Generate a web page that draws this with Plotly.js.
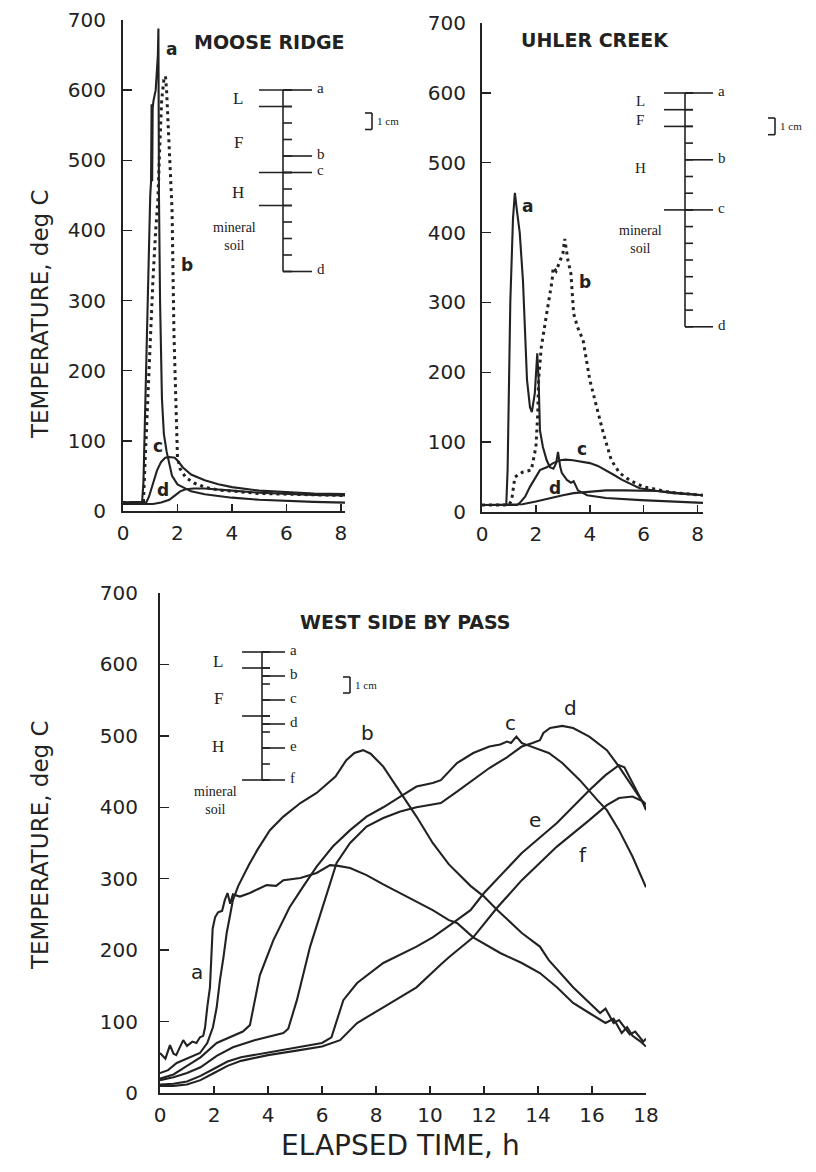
<!DOCTYPE html>
<html><head><meta charset="utf-8">
<script src="https://cdn.plot.ly/plotly-3.0.1.min.js"></script>
<style>html,body{margin:0;padding:0;background:#fff}</style>
</head><body>
<div id="chart" style="width:816px;height:1172px"></div>
<script>
// ---------------- DATA ----------------
// Moose Ridge (elapsed time h, temperature deg C)
const mrA_t = [0, 0.5, 0.7, 0.75, 0.85, 0.95, 1.0, 1.03, 1.05, 1.07, 1.09, 1.12, 1.2, 1.28, 1.3, 1.32, 1.36, 1.43, 1.5, 1.6, 1.7, 1.8, 2.0, 2.5, 3.0, 4.0, 5.0, 6.0, 7.0, 8.15];
const mrA_T = [12, 12, 13, 40, 220, 400, 450, 470, 580, 470, 575, 585, 600, 650, 688, 450, 300, 160, 110, 85, 65, 50, 38, 28, 24, 19, 16, 14, 13, 12];
const mrB_t = [0, 0.75, 0.8, 0.9, 1.0, 1.1, 1.2, 1.28, 1.35, 1.42, 1.5, 1.56, 1.6, 1.65, 1.7, 1.8, 1.87, 1.95, 2.0, 2.1, 2.3, 2.6, 3.0, 3.5, 4.0, 5.0, 6.0, 7.0, 8.15];
const mrB_T = [12, 12, 60, 150, 250, 330, 400, 443, 520, 585, 615, 620, 600, 560, 500, 430, 253, 120, 76, 60, 48, 40, 34, 30, 28, 25, 24, 23, 22];
const mrC_t = [0, 0.85, 0.95, 1.1, 1.25, 1.4, 1.55, 1.7, 1.9, 2.0, 2.2, 2.5, 3.0, 3.5, 4.0, 5.0, 6.0, 7.0, 8.15];
const mrC_T = [12, 12, 20, 40, 58, 70, 76, 77, 76, 72, 62, 52, 44, 38, 34, 29, 27, 25, 24];
const mrD_t = [0, 1.1, 1.4, 1.7, 1.9, 2.1, 2.3, 2.6, 3.0, 3.5, 4.0, 5.0, 6.0, 7.0, 8.15];
const mrD_T = [10, 10, 12, 16, 22, 28, 31, 32, 32, 31, 29, 26, 24, 23, 22];

// Uhler Creek
const ucA_t = [0, 0.9, 0.95, 1.05, 1.15, 1.22, 1.3, 1.4, 1.52, 1.6, 1.67, 1.78, 1.85, 1.96, 2.02, 2.05, 2.1, 2.15, 2.26, 2.4, 2.52, 2.65, 2.75, 2.82, 2.9, 2.96, 3.15, 3.3, 3.4, 3.56, 3.9, 4.6, 5.9, 7.0, 8.2];
const ucA_T = [10, 10, 60, 300, 420, 457, 430, 400, 331, 260, 189, 150, 143, 170, 200, 227, 190, 117, 93, 74, 64, 62, 70, 86, 65, 56, 46, 42, 44, 31, 24, 20, 17, 15, 13];
const ucB_t = [0, 1.0, 1.1, 1.22, 1.5, 1.83, 2.0, 2.07, 2.1, 2.2, 2.4, 2.6, 2.64, 2.75, 2.9, 3.0, 3.07, 3.19, 3.3, 3.4, 3.55, 3.75, 4.0, 4.26, 4.5, 4.8, 5.1, 5.5, 6.0, 7.0, 8.2];
const ucB_T = [10, 10, 17, 50, 57, 60, 93, 141, 189, 236, 284, 331, 350, 345, 360, 370, 391, 360, 341, 284, 264, 246, 189, 150, 113, 74, 56, 45, 36, 28, 24];
const ucC_t = [0, 1.3, 1.4, 1.6, 1.78, 2.0, 2.15, 2.4, 2.64, 2.9, 3.1, 3.37, 3.7, 4.0, 4.3, 4.6, 4.9, 5.2, 5.5, 5.85, 6.5, 7.1, 8.2];
const ucC_T = [10, 10, 13, 22, 36, 50, 60, 64, 70, 74, 75, 74, 72, 70, 66, 60, 53, 46, 40, 34, 30, 27, 24];
const ucD_t = [0, 1.5, 2.0, 2.5, 3.0, 3.4, 3.9, 4.6, 5.3, 5.9, 6.5, 7.1, 8.2];
const ucD_T = [10, 11, 15, 20, 24, 27, 29, 31, 31, 31, 30, 28, 24];

// West Side By Pass
const wsA_t = [0, 0.2, 0.37, 0.5, 0.6, 0.75, 0.86, 1.0, 1.2, 1.35, 1.48, 1.6, 1.67, 1.75, 1.85, 1.95, 2.04, 2.15, 2.3, 2.4, 2.5, 2.6, 2.7, 2.96, 3.33, 3.6, 3.95, 4.3, 4.57, 5.2, 5.8, 6.3, 6.6, 7.04, 7.65, 8.27, 8.9, 9.5, 10.1, 10.7, 11.0, 11.6, 12.6, 13.4, 14.07, 14.7, 15.3, 15.9, 16.5, 16.8, 17.1, 17.3, 17.5, 17.8, 18];
const wsA_T = [56, 48, 67, 55, 53, 65, 74, 66, 72, 70, 78, 80, 92, 120, 148, 230, 246, 253, 255, 270, 280, 265, 278, 275, 280, 285, 291, 290, 298, 301, 308, 319, 318, 315, 305, 292, 280, 268, 256, 242, 238, 218, 196, 182, 168, 148, 126, 112, 98, 104, 84, 92, 80, 72, 65];
const wsB_t = [0, 0.3, 0.62, 1.0, 1.48, 1.75, 1.96, 2.1, 2.22, 2.35, 2.47, 2.6, 2.7, 2.9, 3.07, 3.3, 3.6, 4.07, 4.57, 5.2, 5.8, 6.5, 6.9, 7.2, 7.52, 7.8, 8.27, 9.0, 9.5, 10.1, 10.7, 11.5, 12.0, 12.5, 13.4, 14.07, 14.4, 15.3, 16.3, 16.5, 16.8, 17.0, 17.4, 17.6, 17.9, 18];
const wsB_T = [28, 32, 42, 48, 56, 70, 92, 120, 158, 190, 224, 250, 270, 290, 303, 320, 340, 368, 387, 406, 420, 443, 466, 476, 480, 475, 457, 415, 387, 350, 320, 290, 275, 256, 224, 205, 186, 148, 112, 118, 98, 102, 82, 86, 72, 76];
const wsC_t = [0, 0.5, 1.0, 1.5, 2.1, 2.7, 3.07, 3.33, 3.5, 3.7, 4.2, 4.8, 5.3, 5.8, 6.4, 7.04, 7.65, 8.27, 8.9, 9.5, 10.1, 10.4, 11.0, 11.6, 12.2, 12.6, 12.85, 13.0, 13.2, 13.4, 13.6, 14.07, 14.4, 14.9, 15.55, 16.2, 16.55, 17.0, 17.5, 18];
const wsC_T = [20, 26, 38, 50, 70, 80, 86, 95, 125, 165, 214, 260, 289, 317, 345, 368, 387, 400, 415, 429, 434, 438, 462, 476, 485, 488, 492, 490, 499, 490, 487, 480, 476, 462, 438, 410, 396, 368, 331, 288];
const wsD_t = [0, 0.5, 1.0, 1.5, 2.1, 2.7, 3.5, 4.0, 4.57, 4.75, 5.07, 5.56, 6.2, 6.54, 7.04, 7.65, 8.27, 8.9, 9.5, 10.4, 11.0, 11.6, 12.2, 12.85, 13.4, 13.8, 14.07, 14.2, 14.45, 14.9, 15.3, 15.9, 16.55, 17.0, 17.5, 17.9, 18];
const wsD_T = [18, 22, 28, 36, 52, 64, 74, 79, 84, 90, 130, 205, 280, 322, 350, 373, 385, 394, 400, 406, 422, 438, 455, 470, 485, 490, 494, 504, 511, 514, 511, 499, 480, 457, 429, 406, 396];
const wsE_t = [0, 0.5, 1.0, 1.5, 2.0, 2.5, 3.0, 4.0, 5.0, 6.0, 6.35, 6.54, 6.79, 7.3, 8.27, 9.5, 10.1, 10.7, 11.5, 12.0, 13.4, 14.7, 15.9, 16.5, 17.0, 17.2, 17.5, 17.9, 18];
const wsE_T = [12, 13, 16, 24, 34, 44, 50, 57, 63, 70, 78, 102, 130, 154, 182, 205, 218, 234, 256, 280, 336, 378, 424, 445, 459, 456, 434, 406, 398];
const wsF_t = [0, 0.5, 1.0, 1.5, 2.0, 2.5, 3.0, 4.0, 5.0, 6.0, 6.67, 7.3, 8.27, 9.5, 10.4, 10.7, 11.6, 12.5, 13.4, 14.7, 15.9, 16.55, 17.0, 17.5, 17.9, 18];
const wsF_T = [10, 10, 12, 18, 28, 38, 45, 53, 59, 65, 74, 98, 120, 148, 180, 190, 218, 260, 298, 345, 382, 403, 413, 415, 408, 404];

// Tick labels
const yTicks = [0, 100, 200, 300, 400, 500, 600, 700];
const xTicksTop = [0, 2, 4, 6, 8];
const xTicksBottom = [0, 2, 4, 6, 8, 10, 12, 14, 16, 18];

// Inset soil profiles (depth in cm)
const mrProfileTicks = [0,1,2,3,4,5,6,7,8,9,10,11];
const mrSensorNames = ['a','b','c','d'];
const mrSensorDepths = [0, 4, 5, 11];
const mrBoundaries = [0, 1, 5, 7];
const mrHorizonNames = ['L','F','H','mineral<br>soil'];
const mrHorizonMids = [0.5, 3.2, 6.2, 8.9];

const ucProfileTicks = [0,1,2,3,4,5,6,7,8,9,10,11,12,13,14];
const ucSensorNames = ['a','b','c','d'];
const ucSensorDepths = [0, 4, 7, 14];
const ucBoundaries = [0, 1, 2, 7];
const ucHorizonNames = ['L','F','H','mineral<br>soil'];
const ucHorizonMids = [0.45, 1.6, 4.5, 8.8];

const wsProfileTicks = [0,1,1.5,2,3,4,4.5,5,6,7,8];
const wsSensorNames = ['a','b','c','d','e','f'];
const wsSensorDepths = [0, 1.5, 3, 4.5, 6, 8];
const wsBoundaries = [0, 1, 4, 8];
const wsHorizonNames = ['L','F','H','mineral<br>soil'];
const wsHorizonMids = [0.6, 2.9, 5.9, 9.3];

// ---------------- LAYOUT HELPERS ----------------
const W = 816, H = 1172;
const px = v => v / W;
const py = v => 1 - v / H;
const INK = '#222';
const SANS = 'DejaVu Sans, sans-serif';
const SERIF = 'Liberation Serif, DejaVu Serif, serif';

function solid(x, y, xa, ya) {
  return {x, y, xaxis: xa, yaxis: ya, type: 'scatter', mode: 'lines',
    line: {color: INK, width: 2.1}, hoverinfo: 'skip'};
}
function dotted(x, y, xa, ya) {
  return {x, y, xaxis: xa, yaxis: ya, type: 'scatter', mode: 'lines',
    line: {color: INK, width: 3, dash: '3px,4px'}, hoverinfo: 'skip'};
}

const traces = [
  solid(mrA_t, mrA_T, 'x', 'y'),
  dotted(mrB_t, mrB_T, 'x', 'y'),
  solid(mrC_t, mrC_T, 'x', 'y'),
  solid(mrD_t, mrD_T, 'x', 'y'),
  solid(ucA_t, ucA_T, 'x2', 'y2'),
  dotted(ucB_t, ucB_T, 'x2', 'y2'),
  solid(ucC_t, ucC_T, 'x2', 'y2'),
  solid(ucD_t, ucD_T, 'x2', 'y2'),
  solid(wsA_t, wsA_T, 'x3', 'y3'),
  solid(wsB_t, wsB_T, 'x3', 'y3'),
  solid(wsC_t, wsC_T, 'x3', 'y3'),
  solid(wsD_t, wsD_T, 'x3', 'y3'),
  solid(wsE_t, wsE_T, 'x3', 'y3'),
  solid(wsF_t, wsF_T, 'x3', 'y3')
];

function xAxis(dom, range, ticks, anchor) {
  return {domain: [px(dom[0]), px(dom[1])], range, tickvals: ticks, ticktext: ticks.map(String),
    ticks: 'inside', ticklen: 7, tickwidth: 1.5, tickcolor: INK,
    showline: true, linewidth: 2, linecolor: INK, showgrid: false, zeroline: false,
    tickfont: {family: SANS, size: 20, color: INK}, anchor, automargin: false, fixedrange: true,
    ticklabelstandoff: 3};
}
function yAxis(dom, ticks, anchor, standoff) {
  return {domain: [py(dom[0]), py(dom[1])], range: [0, 700], tickvals: ticks, ticktext: ticks.map(String),
    ticks: 'inside', ticklen: 9, tickwidth: 1.5, tickcolor: INK,
    showline: true, linewidth: 2, linecolor: INK, showgrid: false, zeroline: false,
    tickfont: {family: SANS, size: 20, color: INK}, anchor, automargin: false, fixedrange: true,
    ticklabelstandoff: standoff};
}

const shapes = [];
const annotations = [];
function line(x0, y0, x1, y1, w) {
  shapes.push({type: 'line', xref: 'paper', yref: 'paper', x0: px(x0), y0: py(y0), x1: px(x1), y1: py(y1),
    line: {color: INK, width: w || 1.6}});
}
function text(t, x, y, font, xanchor, angle) {
  annotations.push({xref: 'paper', yref: 'paper', x: px(x), y: py(y), text: t, showarrow: false,
    xanchor: xanchor || 'center', yanchor: 'middle', font, borderpad: 0, textangle: angle || 0});
}

function profile(cfg, tks, sNames, sDepths, bounds, hNames, hMids) {
  const Y = d => cfg.top + d * cfg.scale;
  const maxD = Math.max(...tks);
  line(cfg.ax, Y(0), cfg.ax, Y(maxD));
  tks.forEach(d => line(cfg.ax, Y(d), cfg.ax + cfg.small, Y(d)));
  bounds.forEach(d => line(cfg.left, Y(d), cfg.ax + cfg.small, Y(d)));
  sDepths.forEach((d, i) => {
    line(cfg.ax, Y(d), cfg.right, Y(d));
    text(sNames[i], cfg.right + 4, Y(d) - 2, {family: SERIF, size: 15, color: INK}, 'left');
  });
  hNames.forEach((n, i) => {
    const multi = n.indexOf('<br>') >= 0;
    text(n, multi ? cfg.minX : cfg.hX, Y(hMids[i]),
      multi ? {family: SERIF, size: 14, color: INK} : {family: SERIF, size: cfg.hSize, color: INK});
  });
  // 1 cm scale bracket
  const b = cfg.bar;
  line(b[0], b[1], b[0], b[1] + cfg.scale);
  line(b[0] - 7, b[1], b[0], b[1]);
  line(b[0] - 7, b[1] + cfg.scale, b[0], b[1] + cfg.scale);
  text('1 cm', b[0] + 4, b[1] + cfg.scale / 2, {family: SERIF, size: 11, color: INK}, 'left');
}

profile({ax: 283, top: 90, scale: 16.5, small: 9, left: 259, right: 312, hX: 238, hSize: 17, minX: 235, bar: [372, 113]},
  mrProfileTicks, mrSensorNames, mrSensorDepths, mrBoundaries, mrHorizonNames, mrHorizonMids);
profile({ax: 685, top: 93, scale: 16.7, small: 8, left: 664, right: 713, hX: 640, hSize: 15, minX: 640, bar: [775, 118]},
  ucProfileTicks, ucSensorNames, ucSensorDepths, ucBoundaries, ucHorizonNames, ucHorizonMids);
profile({ax: 262, top: 652, scale: 16, small: 8, left: 242, right: 285, hX: 218, hSize: 17, minX: 215, bar: [350, 677]},
  wsProfileTicks, wsSensorNames, wsSensorDepths, wsBoundaries, wsHorizonNames, wsHorizonMids);

// Titles
const titleFont = {family: SANS, size: 19, color: INK};
text('<b>MOOSE RIDGE</b>', 269, 42, titleFont);
text('<b>UHLER CREEK</b>', 595, 40, titleFont);
text('<b>WEST SIDE BY PASS</b>', 405, 622, titleFont);

// Axis titles
text('TEMPERATURE, deg C', 40, 314, {family: SANS, size: 23, color: INK}, 'center', -90);
text('TEMPERATURE, deg C', 40, 845, {family: SANS, size: 23, color: INK}, 'center', -90);
text('ELAPSED TIME, h', 400, 1145, {family: SANS, size: 28, color: INK});

// Curve labels
const lblTop = {family: SANS, size: 17, color: INK};
text('<b>a</b>', 171, 49, lblTop);
text('<b>b</b>', 187, 265, lblTop);
text('<b>c</b>', 158, 446, lblTop);
text('<b>d</b>', 163, 490, lblTop);
text('<b>a</b>', 527, 206, lblTop);
text('<b>b</b>', 585, 282, lblTop);
text('<b>c</b>', 582, 449, lblTop);
text('<b>d</b>', 555, 488, lblTop);
const lblBot = {family: SANS, size: 20, color: INK};
text('a', 197, 972, lblBot);
text('b', 367, 733, lblBot);
text('c', 510, 723, lblBot);
text('d', 570, 708, lblBot);
text('e', 535, 820, lblBot);
text('f', 583, 855, lblBot);

const layout = {
  width: W, height: H, margin: {l: 0, r: 0, t: 0, b: 0, pad: 0},
  paper_bgcolor: '#fff', plot_bgcolor: 'rgba(0,0,0,0)', showlegend: false,
  xaxis: xAxis([123, 345], [0, 8.15], xTicksTop, 'y'),
  yaxis: yAxis([511, 20], yTicks, 'x', 11),
  xaxis2: xAxis([482, 703], [0, 8.2], xTicksTop, 'y2'),
  yaxis2: yAxis([512, 23], yTicks, 'x2', 10),
  xaxis3: xAxis([160, 646], [0, 18], xTicksBottom, 'y3'),
  yaxis3: yAxis([1093, 593], yTicks, 'x3', 16),
  shapes, annotations
};

Plotly.newPlot('chart', traces, layout, {staticPlot: true, displayModeBar: false});
</script>
</body></html>
